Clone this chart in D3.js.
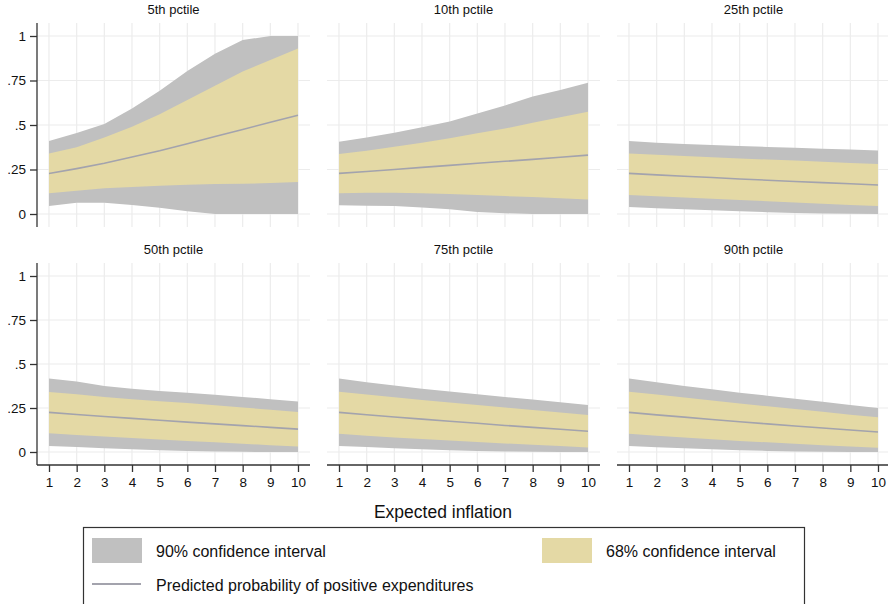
<!DOCTYPE html>
<html>
<head>
<meta charset="utf-8">
<script src="https://d3js.org/d3.v7.min.js"></script>
<style>
  body { margin: 0; background: #fff; }
  svg { font-family: "Liberation Sans", Arial, sans-serif; }
</style>
</head>
<body>
<div id="chart"></div>
<script>
// expected inflation values (x)
var inflacao = [1, 2, 3, 4, 5, 6, 7, 8, 9, 10];
var titulos = ["5th pctile", "10th pctile", "25th pctile", "50th pctile", "75th pctile", "90th pctile"];
var yTicks = [0, 0.25, 0.5, 0.75, 1];
var yLabels = ["0", ".25", ".5", ".75", "1"];

// one row per panel, same order as titulos
var sup90 = [
  [0.41, 0.455, 0.506, 0.593, 0.693, 0.803, 0.90, 0.977, 1.0, 1.0],
  [0.406, 0.43, 0.457, 0.487, 0.52, 0.565, 0.61, 0.66, 0.697, 0.738],
  [0.41, 0.40, 0.393, 0.388, 0.382, 0.377, 0.372, 0.367, 0.362, 0.357],
  [0.417, 0.40, 0.375, 0.36, 0.347, 0.336, 0.325, 0.313, 0.30, 0.287],
  [0.417, 0.397, 0.378, 0.36, 0.344, 0.328, 0.313, 0.298, 0.283, 0.267],
  [0.417, 0.396, 0.375, 0.356, 0.337, 0.32, 0.302, 0.285, 0.267, 0.25]
];
var sup68 = [
  [0.34, 0.375, 0.43, 0.49, 0.56, 0.64, 0.72, 0.80, 0.865, 0.93],
  [0.337, 0.356, 0.378, 0.40, 0.425, 0.453, 0.48, 0.513, 0.543, 0.575],
  [0.34, 0.333, 0.326, 0.319, 0.312, 0.306, 0.30, 0.294, 0.287, 0.281],
  [0.341, 0.328, 0.313, 0.30, 0.289, 0.278, 0.266, 0.253, 0.24, 0.227],
  [0.343, 0.327, 0.311, 0.296, 0.281, 0.267, 0.253, 0.239, 0.225, 0.21],
  [0.343, 0.326, 0.309, 0.292, 0.276, 0.26, 0.244, 0.228, 0.212, 0.197]
];
var previsto = [
  [0.228, 0.255, 0.285, 0.32, 0.355, 0.395, 0.435, 0.475, 0.515, 0.555],
  [0.228, 0.239, 0.25, 0.262, 0.273, 0.285, 0.296, 0.307, 0.319, 0.331],
  [0.228, 0.22, 0.212, 0.205, 0.197, 0.19, 0.183, 0.176, 0.17, 0.163],
  [0.225, 0.213, 0.202, 0.191, 0.18, 0.17, 0.16, 0.15, 0.14, 0.13],
  [0.225, 0.212, 0.199, 0.187, 0.175, 0.163, 0.151, 0.14, 0.129, 0.118],
  [0.225, 0.211, 0.198, 0.185, 0.172, 0.16, 0.148, 0.136, 0.125, 0.114]
];
var inf68 = [
  [0.116, 0.131, 0.145, 0.152, 0.159, 0.164, 0.168, 0.17, 0.174, 0.18],
  [0.116, 0.12, 0.12, 0.116, 0.112, 0.107, 0.101, 0.095, 0.088, 0.082],
  [0.107, 0.10, 0.093, 0.086, 0.079, 0.072, 0.065, 0.058, 0.051, 0.045],
  [0.107, 0.097, 0.088, 0.079, 0.071, 0.063, 0.055, 0.047, 0.039, 0.031],
  [0.103, 0.093, 0.083, 0.074, 0.065, 0.057, 0.049, 0.041, 0.034, 0.026],
  [0.103, 0.092, 0.082, 0.072, 0.063, 0.055, 0.047, 0.039, 0.031, 0.024]
];
var inf90 = [
  [0.045, 0.063, 0.063, 0.05, 0.035, 0.015, 0.0, 0.0, 0.0, 0.0],
  [0.049, 0.047, 0.045, 0.037, 0.026, 0.011, 0.004, 0.0, 0.0, 0.0],
  [0.039, 0.033, 0.027, 0.021, 0.015, 0.01, 0.006, 0.003, 0.001, 0.0],
  [0.034, 0.028, 0.022, 0.016, 0.01, 0.006, 0.003, 0.001, 0.0, 0.0],
  [0.034, 0.028, 0.022, 0.016, 0.01, 0.006, 0.003, 0.001, 0.0, 0.0],
  [0.034, 0.027, 0.021, 0.015, 0.01, 0.006, 0.003, 0.001, 0.0, 0.0]
];

var corCinza = "#c0c0c0", corAmarelo = "#e4d9a5", corLinha = "#a3a3ad";
var corGrade = "#ececec", corEixo = "#333";

var svg = d3.select("#chart").append("svg")
    .attr("width", 888).attr("height", 604);

var larguraPainel = 273;
var colX = [37, 327, 617];
var linhas = [{top: 23, h: 204}, {top: 263, h: 202}];

var x = d3.scaleLinear().domain([1, 10]).range([12, 261]);

titulos.forEach(function(titulo, p) {
  var col = p % 3, lin = Math.floor(p / 3);
  var h = linhas[lin].h;
  var y = d3.scaleLinear().domain([0, 1]).range([h - 13, 13]);
  var g = svg.append("g")
      .attr("transform", "translate(" + colX[col] + "," + linhas[lin].top + ")");

  // grade
  g.selectAll(".gh").data(yTicks).enter().append("line")
      .attr("x1", 0).attr("x2", larguraPainel)
      .attr("y1", d => y(d)).attr("y2", d => y(d))
      .attr("stroke", corGrade).attr("stroke-width", 1.2);
  g.selectAll(".gv").data(inflacao).enter().append("line")
      .attr("x1", d => x(d)).attr("x2", d => x(d))
      .attr("y1", 0).attr("y2", h)
      .attr("stroke", corGrade).attr("stroke-width", 1.2);

  var dados = inflacao.map((v, i) => ({
    x: v, s90: sup90[p][i], s68: sup68[p][i], m: previsto[p][i], i68: inf68[p][i], i90: inf90[p][i]
  }));

  g.append("path").datum(dados)
      .attr("fill", corCinza)
      .attr("d", d3.area().x(d => x(d.x)).y0(d => y(d.i90)).y1(d => y(d.s90)));
  g.append("path").datum(dados)
      .attr("fill", corAmarelo)
      .attr("d", d3.area().x(d => x(d.x)).y0(d => y(d.i68)).y1(d => y(d.s68)));
  g.append("path").datum(dados)
      .attr("fill", "none").attr("stroke", corLinha).attr("stroke-width", 1.6)
      .attr("d", d3.line().x(d => x(d.x)).y(d => y(d.m)));

  svg.append("text")
      .attr("x", colX[col] + larguraPainel / 2)
      .attr("y", linhas[lin].top - 9)
      .attr("text-anchor", "middle")
      .style("font-size", "13px")
      .attr("fill", "#111")
      .text(titulo);

  if (col == 0) {
    var eixoY = g.append("g")
        .call(d3.axisLeft(y).tickValues(yTicks).tickFormat((d, i) => yLabels[i]).tickSize(7).tickSizeOuter(0));
    eixoY.select(".domain").attr("d", "M0,0V" + h);
    eixoY.selectAll("path, line").attr("stroke", corEixo).attr("stroke-width", 1.3);
    eixoY.selectAll("text").style("font-size", "13.5px").attr("fill", "#111")
        .attr("font-family", "Liberation Sans, Arial, sans-serif").attr("x", -11);
  }
  if (lin == 1) {
    var eixoX = g.append("g")
        .attr("transform", "translate(0," + h + ")")
        .call(d3.axisBottom(x).tickValues(inflacao).tickFormat(d3.format("d")).tickSize(7).tickSizeOuter(0));
    eixoX.select(".domain").attr("d", "M0,0H" + larguraPainel);
    eixoX.selectAll("path, line").attr("stroke", corEixo).attr("stroke-width", 1.3);
    eixoX.selectAll("text").style("font-size", "13.5px").attr("fill", "#111")
        .attr("font-family", "Liberation Sans, Arial, sans-serif").attr("y", 12);
  }
});

svg.append("text")
    .attr("x", 443).attr("y", 518)
    .attr("text-anchor", "middle")
    .style("font-size", "17.5px")
    .attr("fill", "#111")
    .text("Expected inflation");

// legenda
var leg = svg.append("g");
leg.append("rect")
    .attr("x", 83.5).attr("y", 527.5).attr("width", 721).attr("height", 90)
    .attr("fill", "none").attr("stroke", corEixo).attr("stroke-width", 1.2);
leg.append("rect").attr("x", 92).attr("y", 538).attr("width", 50).attr("height", 25).attr("fill", corCinza);
leg.append("rect").attr("x", 542).attr("y", 538).attr("width", 50).attr("height", 25).attr("fill", corAmarelo);
leg.append("line").attr("x1", 92).attr("x2", 141).attr("y1", 584).attr("y2", 584)
    .attr("stroke", corLinha).attr("stroke-width", 2);
var textos = [
  {x: 156, y: 557, t: "90% confidence interval"},
  {x: 606, y: 557, t: "68% confidence interval"},
  {x: 156, y: 591, t: "Predicted probability of positive expenditures"}
];
leg.selectAll(".lt").data(textos).enter().append("text")
    .attr("x", d => d.x).attr("y", d => d.y)
    .style("font-size", "16px").attr("fill", "#111")
    .text(d => d.t);
</script>
</body>
</html>
